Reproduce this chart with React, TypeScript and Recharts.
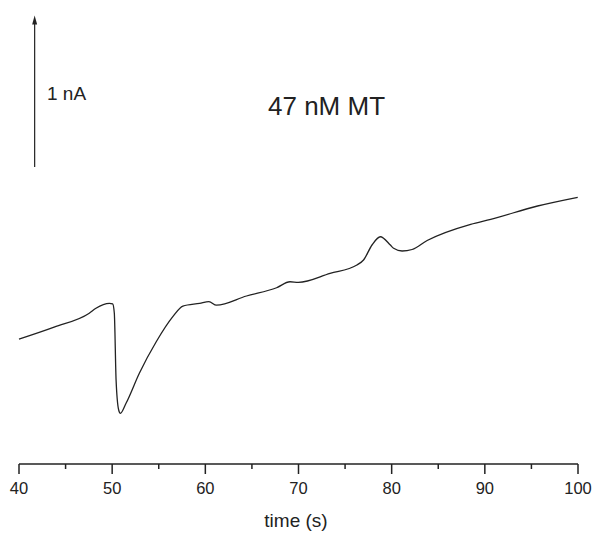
import { LineChart, Line, XAxis, YAxis, ReferenceLine } from 'recharts';

// time (s)
const times = [
  40.0, 43.77, 47.54, 48.26, 49.7, 50.05, 50.23, 50.42, 50.7, 50.88, 51.49, 52.93, 54.73, 56.51,
  57.59, 59.39, 60.39, 61.19, 64.42, 67.65, 69.09, 69.98, 73.39, 76.27, 76.98, 77.89, 78.78,
  79.86, 80.21, 81.12, 82.19, 83.81, 88.48, 90.63, 95.66, 99.97
];
// current (nA, arbitrary offset)
const current = [
  0.833, 0.913, 1.005, 1.038, 1.071, 1.067, 1.007, 0.56, 0.36, 0.338, 0.405, 0.607, 0.815, 0.982,
  1.053, 1.071, 1.082, 1.059, 1.12, 1.175, 1.215, 1.211, 1.271, 1.327, 1.36, 1.46, 1.515,
  1.46, 1.438, 1.42, 1.43, 1.49, 1.598, 1.631, 1.72, 1.778
];
const xTicks = [40, 45, 50, 55, 60, 65, 70, 75, 80, 85, 90, 95, 100];
const scaleBar = { t: 41.68, from: 1.98, to: 2.99 };

const data = times.map((t, i) => ({ t, v: current[i] }));

const font = 'Arial, "Liberation Sans", sans-serif';

function Tick(props: any) {
  const { x, y, payload } = props;
  const major = payload.value % 10 === 0;
  return (
    <g>
      <line x1={x} x2={x} y1={y} y2={y + (major ? 10 : 5)} stroke="#222" strokeWidth={1.5} />
      {major && (
        <text x={x} y={y + 30} textAnchor="middle" fontSize={16.5} fontFamily={font} fill="#222">
          {payload.value}
        </text>
      )}
    </g>
  );
}

function Arrow(props: any) {
  const { x1, y1, y2 } = props;
  const x = x1;
  const top = Math.min(y1, y2);
  const bottom = Math.max(y1, y2);
  return (
    <g>
      <line x1={x} x2={x} y1={bottom} y2={top + 6} stroke="#222" strokeWidth={1.2} />
      <polygon points={`${x},${top} ${x - 2.5},${top + 9} ${x + 2.5},${top + 9}`} fill="#222" />
    </g>
  );
}

export default function App() {
  return (
    <div style={{ position: 'relative', width: 592, height: 535, background: '#fff' }}>
      <style>{'body{margin:0}'}</style>
      <LineChart width={592} height={535} data={data} margin={{ top: 0, right: 14, bottom: 0, left: 19 }}>
        <XAxis
          dataKey="t"
          type="number"
          domain={[40, 100]}
          ticks={xTicks}
          interval={0}
          tick={<Tick />}
          tickLine={false}
          tickSize={0}
          tickMargin={0}
          height={71}
          axisLine={{ stroke: '#222', strokeWidth: 1.5 }}
        />
        <YAxis type="number" domain={[0, 464 / 150]} hide />
        <ReferenceLine
          segment={[
            { x: scaleBar.t, y: scaleBar.from },
            { x: scaleBar.t, y: scaleBar.to },
          ]}
          shape={<Arrow />}
          ifOverflow="visible"
        />
        <Line
          type="monotone"
          dataKey="v"
          stroke="#222"
          strokeWidth={1.3}
          dot={false}
          isAnimationActive={false}
        />
      </LineChart>
      <div style={{ position: 'absolute', left: 47, top: 83, fontSize: 19, fontFamily: font, color: '#222' }}>
        1 nA
      </div>
      <div style={{ position: 'absolute', left: 268, top: 91, fontSize: 26, fontFamily: font, color: '#222' }}>
        47 nM MT
      </div>
      <div
        style={{
          position: 'absolute',
          left: 0,
          width: 592,
          top: 510,
          textAlign: 'center',
          fontSize: 19,
          fontFamily: font,
          color: '#222',
        }}
      >
        time (s)
      </div>
    </div>
  );
}
